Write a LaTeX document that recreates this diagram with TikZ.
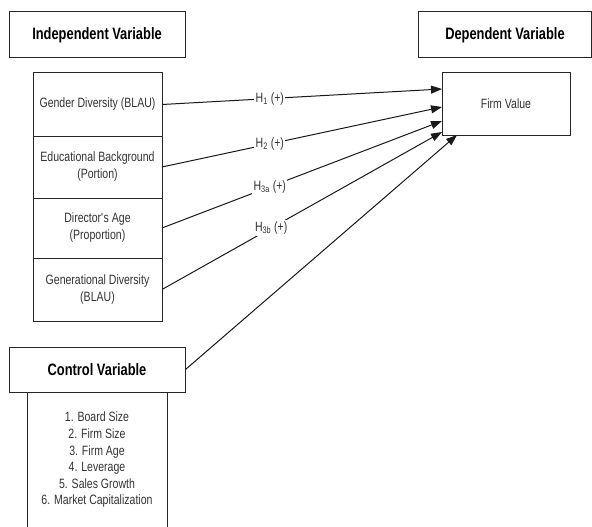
\documentclass[tikz,border=0pt]{standalone}
\usepackage{fontspec}
\setmainfont{Liberation Sans}[FakeStretch=0.78]
\usetikzlibrary{arrows.meta, positioning}

\begin{document}
\begin{tikzpicture}[x=1pt, y=-1pt,
        head/.style={draw=black!85, line width=1pt, minimum width=176pt, minimum height=46pt,
                     inner sep=0pt, font=\fontsize{16.5}{19}\selectfont\bfseries, text=black},
        var/.style={draw=black!85, line width=1pt, minimum width=129pt, inner sep=0pt,
                    outer sep=0pt, align=center, font=\fontsize{13.5}{17}\selectfont,
                    text=black!80},
        hyp/.style={fill=white, inner sep=1.5pt, font=\fontsize{13.5}{16}\selectfont,
                    text=black!80},
        link/.style={draw=black!90, line width=1pt, -{Triangle[length=11pt, width=8pt]}}]
      \useasboundingbox (0,0) rectangle (592,527);
      \node[head] (indep) at (97,35) {Independent Variable};
      \node[head, minimum width=173pt] (dep) at (505,35) {Dependent Variable};
      \node[head, minimum height=45pt] (control) at (97,369.5) {Control Variable};
      % stacked independent variables
      \node[var, minimum height=63pt] (gender) at (97.5,104.5) {Gender Diversity (BLAU)};
      \node[var, minimum height=62pt, below=0pt of gender] (edu) {Educational Background\\(Portion)};
      \node[var, minimum height=60pt, below=0pt of edu] (age) {Director\textquotesingle s Age\\(Proportion)};
      \node[var, minimum height=63pt, below=0pt of age] (gen) {Generational Diversity\\(BLAU)};
      \node[var, minimum width=128pt, minimum height=62pt] (firm) at (506,104) {Firm Value};
      % control variables
      \node[var, minimum width=140pt, minimum height=160pt, anchor=north] (ctrlbox) at (97,392) {};
      \node[var, draw=none, font=\fontsize{13.5}{16.6}\selectfont] (ctrllist) at (97,460)
        {1. Board Size\\2. Firm Size\\3. Firm Age\\4. Leverage\\5. Sales Growth\\6. Market Capitalization};
      \draw[link] (gender.east) -- node[hyp, pos=0.385] {H\textsubscript{1} (+)} ([yshift=15pt]firm.west);
      \draw[link] (edu.east) -- node[hyp, pos=0.385] {H\textsubscript{2} (+)} ([yshift=-3pt]firm.west);
      \draw[link] (age.east) -- node[hyp, pos=0.385] {H\textsubscript{3a} (+)} ([yshift=-17pt]firm.west);
      \draw[link] (gen.east) -- node[hyp, pos=0.39] {H\textsubscript{3b} (+)} ([yshift=-28pt]firm.west);
      \draw[link] (control.east) -- ([xshift=15pt]firm.south west);
    \end{tikzpicture}
\end{document}
